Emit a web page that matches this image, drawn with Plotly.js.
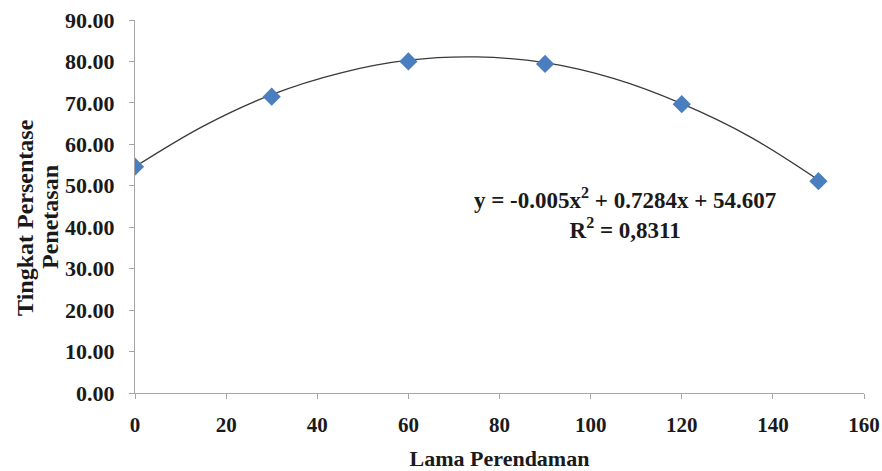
<!DOCTYPE html>
<html>
<head>
<meta charset="utf-8">
<script src="https://cdn.plot.ly/plotly-3.0.1.min.js"></script>
<style>html,body{margin:0;padding:0;background:#fff;}#chart{width:882px;height:471px;}</style>
</head>
<body>
<div id="chart"></div>
<script>
// Observed data (Lama Perendaman vs Tingkat Persentase Penetasan)
const lamaPerendaman = [0, 30, 60, 90, 120, 150];
const persentasePenetasan = [54.6, 71.5, 80.0, 79.4, 69.7, 51.1];

// Polynomial trendline as drawn in the picture (read at intervals)
const trendX = [0, 15, 30, 45, 60, 75, 90, 105, 120, 135, 150];
const trendY = [54.6, 64.4, 72.0, 77.2, 80.3, 81.1, 79.7, 75.9, 69.8, 61.8, 51.4];

const yTickVals = [0, 10, 20, 30, 40, 50, 60, 70, 80, 90];
const yTickText = ["0.00","10.00","20.00","30.00","40.00","50.00","60.00","70.00","80.00","90.00"];
const xTickVals = [0, 20, 40, 60, 80, 100, 120, 140, 160];

const yTitleLines = ["Tingkat Persentase", "Penetasan"];
const xTitle = "Lama Perendaman";
const equationText = "y = -0.005x<sup>2</sup> + 0.7284x + 54.607<br>R<sup>2</sup> = 0,8311";

const font = "Liberation Serif, Times New Roman, serif";
const mk = (s) => ({family: font, size: s, color: "#1a1a1a", weight: "bold"});

const traces = [
  {
    x: trendX, y: trendY, type: "scatter", mode: "lines",
    line: {color: "#3a3a3a", width: 1.3, shape: "spline"},
    hoverinfo: "skip", showlegend: false
  },
  {
    x: lamaPerendaman, y: persentasePenetasan, type: "scatter", mode: "markers",
    marker: {symbol: "diamond", size: 14, color: "#4a7ebf"},
    showlegend: false
  }
];

const layout = {
  width: 882, height: 471,
  margin: {l: 135, r: 18, t: 20, b: 78},
  paper_bgcolor: "#ffffff", plot_bgcolor: "#ffffff",
  font: mk(22),
  xaxis: {
    range: [0, 160], tickvals: xTickVals, showgrid: false, zeroline: false,
    showline: true, linecolor: "#a6a6a6", linewidth: 1,
    ticks: "outside", ticklen: 5, tickcolor: "#a6a6a6",
    tickfont: mk(21), ticklabelstandoff: 8, ticklabeloverflow: "allow",
    title: {text: xTitle, font: mk(22), standoff: 18}
  },
  yaxis: {
    range: [0, 90], tickvals: yTickVals, ticktext: yTickText, showgrid: false, zeroline: false,
    showline: true, linecolor: "#a6a6a6", linewidth: 1,
    ticks: "outside", ticklen: 5, tickcolor: "#a6a6a6",
    tickfont: mk(22), ticklabelstandoff: 10
  },
  annotations: [
    {
      x: 107.5, y: 43.2, xref: "x", yref: "y", showarrow: false,
      text: equationText, align: "center", font: mk(23)
    },
    {
      x: -0.1509, y: 0.472, xref: "paper", yref: "paper", showarrow: false,
      xanchor: "center", yanchor: "middle", textangle: -90,
      text: yTitleLines[0], font: mk(24)
    },
    {
      x: -0.1166, y: 0.472, xref: "paper", yref: "paper", showarrow: false,
      xanchor: "center", yanchor: "middle", textangle: -90,
      text: yTitleLines[1], font: mk(24)
    }
  ]
};

Plotly.newPlot("chart", traces, layout, {displayModeBar: false, staticPlot: true});
</script>
</body>
</html>
